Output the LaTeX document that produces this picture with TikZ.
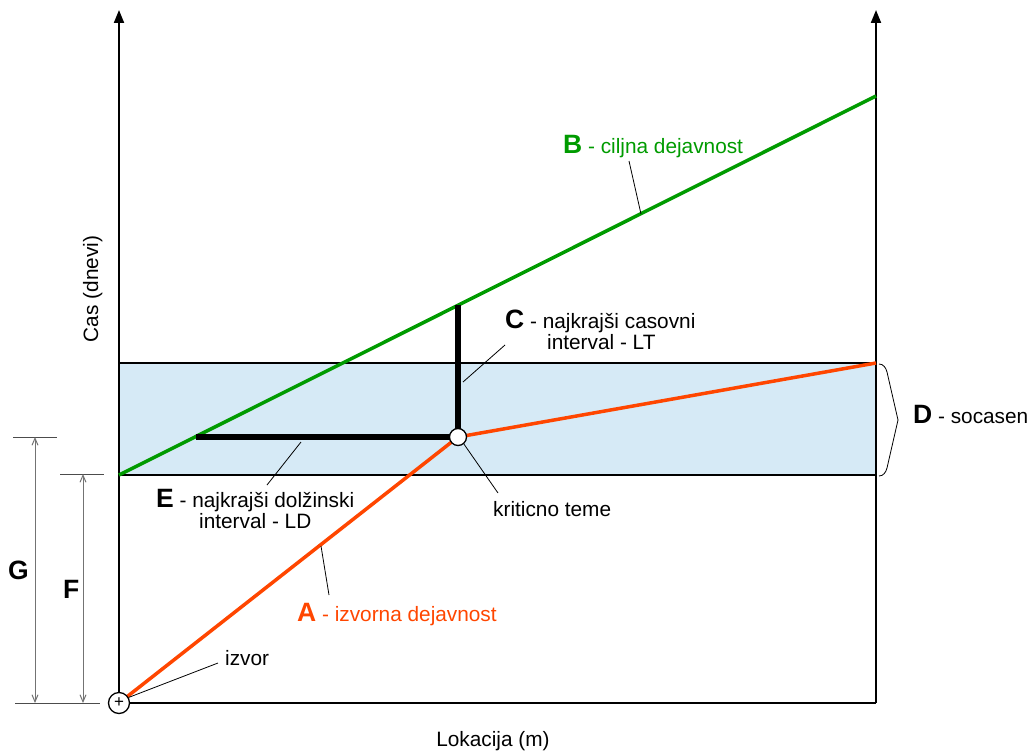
\documentclass[tikz,border=0pt]{standalone}
\usepackage{fontspec}
\setmainfont{Liberation Sans}
\usetikzlibrary{arrows.meta}
\definecolor{grn}{RGB}{0,155,0}
\definecolor{orng}{RGB}{255,70,0}
\definecolor{boxfill}{RGB}{214,234,246}
\definecolor{dimgray}{RGB}{115,115,115}
\newcommand{\bigL}[1]{{\fontsize{26.5}{28}\selectfont\bfseries #1}}
\begin{document}
\begin{tikzpicture}[x=1pt,y=-1pt,
  lbl/.style={font=\fontsize{20.8}{22}\selectfont, inner sep=0pt, anchor=base west},
  axisline/.style={line width=2pt},
  axisarrow/.style={axisline,-{Triangle[length=13pt,width=10pt]}},
  leader/.style={line width=0.8pt},
  dimline/.style={draw=dimgray, line width=1pt, {Straight Barb[length=7pt,width=6pt]}-{Straight Barb[length=7pt,width=6pt]}},
  dimtick/.style={draw=black!70, line width=1pt},
  actA/.style={draw=orng, line width=3.5pt},
  actB/.style={draw=grn, line width=3.5pt},
  interval/.style={line width=6pt},
  vertex/.style={circle, draw, fill=white, line width=1.3pt, inner sep=0pt},
  ]
\useasboundingbox (0,0) rectangle (1030,752);
% key points
\coordinate (O) at (119,703);
\coordinate (Ltop) at (119,10);
\coordinate (R) at (876,703);
\coordinate (Rtop) at (876,10);
\coordinate (BoxBL) at (119,475);
\coordinate (BoxTR) at (876,363);
\coordinate (Bend) at (876,96);
\coordinate (K) at (458,437);
\coordinate (Ctop) at (458,305);
\coordinate (Eleft) at (196,437);
% shaded band
\fill[boxfill] (BoxBL) rectangle (BoxTR);
% axes
\draw[axisarrow] (O) -- (Ltop);
\draw[axisarrow] (R) -- (Rtop);
\draw[axisline] (O) -- (R);
% band border
\draw[line width=2.6pt] (BoxBL) rectangle (BoxTR);
% activities
\draw[actB] (BoxBL) -- (Bend);
\draw[actA] (O) -- (K) -- (BoxTR);
% intervals
\draw[interval] (Ctop) -- (K) -- (Eleft);
% vertices
\node[vertex, minimum size=21pt] (src) at (O) {\fontsize{17}{17}\selectfont\raisebox{-1pt}{+}};
\node[vertex, minimum size=17pt] (crit) at (K) {};
% brace D
\draw[line width=0.8pt] (879,364) to[out=0,in=105] (887,372) -- (898,420) -- (887,468) to[out=-105,in=0] (879,476);
% dimensions
\coordinate (Gt) at (35,437); \coordinate (Gb) at (35,703);
\coordinate (Ft) at (83,474); \coordinate (Fb) at (83,703);
\draw[dimtick] (13,437) -- (57,437);
\draw[dimtick] (60,474) -- (104,474);
\draw[dimtick] (15,703) -- (100,703);
\draw[dimline] (Gb) -- (Gt);
\draw[dimline] (Fb) -- (Ft);
\node[lbl] (G) at (8,579) {\bigL{G}};
\node[lbl] (F) at (63,598) {\bigL{F}};
% labels
\node[lbl, text=grn] (labB) at (563,153) {\bigL{B} - ciljna dejavnost};
\node[lbl] (labC) at (505,328) {\bigL{C} - najkraj\v{s}i casovni};
\node[lbl] (labC2) at (547,349) {interval - LT};
\node[lbl] (labD) at (913,423) {\bigL{D} - socasen};
\node[lbl] (labE) at (156,507) {\bigL{E} - najkraj\v{s}i dol\v{z}inski};
\node[lbl] (labE2) at (199,528) {interval - LD};
\node[lbl] (labK) at (493,516) {kriticno teme};
\node[lbl, text=orng] (labA) at (297,621) {\bigL{A} - izvorna dejavnost};
\node[lbl] (labI) at (225,665) {izvor};
\node[lbl, rotate=90, anchor=base] (labY) at (98,289) {Cas (dnevi)};
\node[lbl, anchor=base] (labX) at (493,746) {Lokacija (m)};
% leader lines
\coordinate (lB1) at (629,161); \coordinate (lB2) at (641,214);
\coordinate (lC1) at (505,345); \coordinate (lC2) at (463,382);
\coordinate (lE1) at (301,442); \coordinate (lE2) at (267,485);
\coordinate (lK2) at (498,493);
\coordinate (lA1) at (321,546); \coordinate (lA2) at (329,595);
\coordinate (lI1) at (218,663);
\draw[leader] (lB1) -- (lB2);
\draw[leader] (lC1) -- (lC2);
\draw[leader] (lE1) -- (lE2);
\draw[leader] (crit.-50) -- (lK2);
\draw[leader] (lA1) -- (lA2);
\draw[leader] (lI1) -- (src.30);
\end{tikzpicture}
\end{document}
